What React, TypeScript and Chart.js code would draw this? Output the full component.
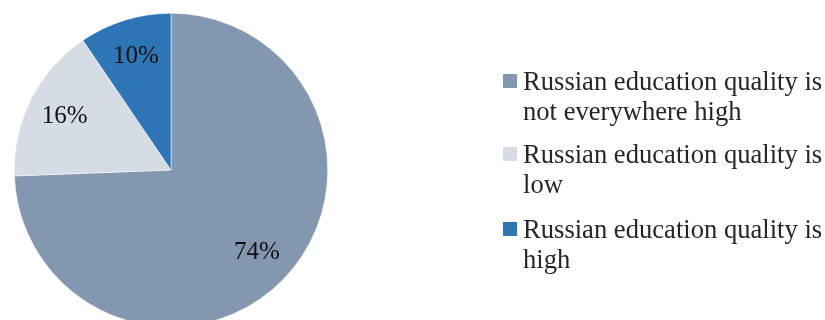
import React, { useEffect, useRef } from "react";
import { Chart, registerables } from "chart.js";

Chart.register(...registerables);

const categories: string[][] = [
  ["Russian education quality is", "not everywhere high"],
  ["Russian education quality is", "low"],
  ["Russian education quality is", "high"],
];
const values: number[] = [74.4, 16.1, 9.5];
const percentLabels: string[] = ["74%", "16%", "10%"];
const colors: string[] = ["#8497B0", "#D6DCE5", "#2E75B6"];

const FONT = '"Liberation Serif", "Times New Roman", serif';

const overlayPlugin = {
  id: "overlay",
  afterDatasetsDraw(chart: any) {
    const ctx = chart.ctx;
    const meta = chart.getDatasetMeta(0);
    ctx.save();
    ctx.fillStyle = "#111";
    ctx.font = `25px ${FONT}`;
    ctx.textAlign = "center";
    ctx.textBaseline = "middle";
    meta.data.forEach((arc: any, i: number) => {
      const p = arc.getProps(["x", "y", "startAngle", "endAngle", "outerRadius"], true);
      const mid = (p.startAngle + p.endAngle) / 2;
      const r = p.outerRadius * 0.76;
      const x = p.x + Math.cos(mid) * r;
      const y = p.y + Math.sin(mid) * r;
      ctx.fillText(percentLabels[i], x, y);
    });
    // legend
    const sqX = 503;
    const textX = 523;
    const baselines = [90, 163, 238];
    const lineH = 30;
    ctx.textAlign = "left";
    ctx.textBaseline = "alphabetic";
    ctx.font = `26.6px ${FONT}`;
    categories.forEach((lines, i) => {
      ctx.fillStyle = colors[i];
      ctx.fillRect(sqX, baselines[i] - 16, 14, 14);
      ctx.fillStyle = "#262626";
      lines.forEach((t, j) => ctx.fillText(t, textX, baselines[i] + j * lineH));
    });
    ctx.restore();
  },
};

export default function App() {
  const ref = useRef<HTMLCanvasElement>(null);
  useEffect(() => {
    document.body.style.margin = "0";
    const chart = new Chart(ref.current!, {
      type: "pie",
      data: {
        labels: categories.map((c) => c.join(" ")),
        datasets: [
          {
            data: values,
            backgroundColor: colors,
            borderColor: "#ffffff",
            borderWidth: 0.5,
          },
        ],
      },
      options: {
        animation: false,
        responsive: false,
        layout: { padding: { left: 14, top: 13, right: 497, bottom: 18 } },
        plugins: { legend: { display: false }, tooltip: { enabled: false } },
      },
      plugins: [overlayPlugin],
    });
    return () => chart.destroy();
  }, []);
  return (
    <div style={{ position: "fixed", left: 0, top: 0, width: 825, height: 320, overflow: "hidden", background: "#fff" }}>
      <canvas ref={ref} width={825} height={345} style={{ display: "block" }} />
    </div>
  );
}
